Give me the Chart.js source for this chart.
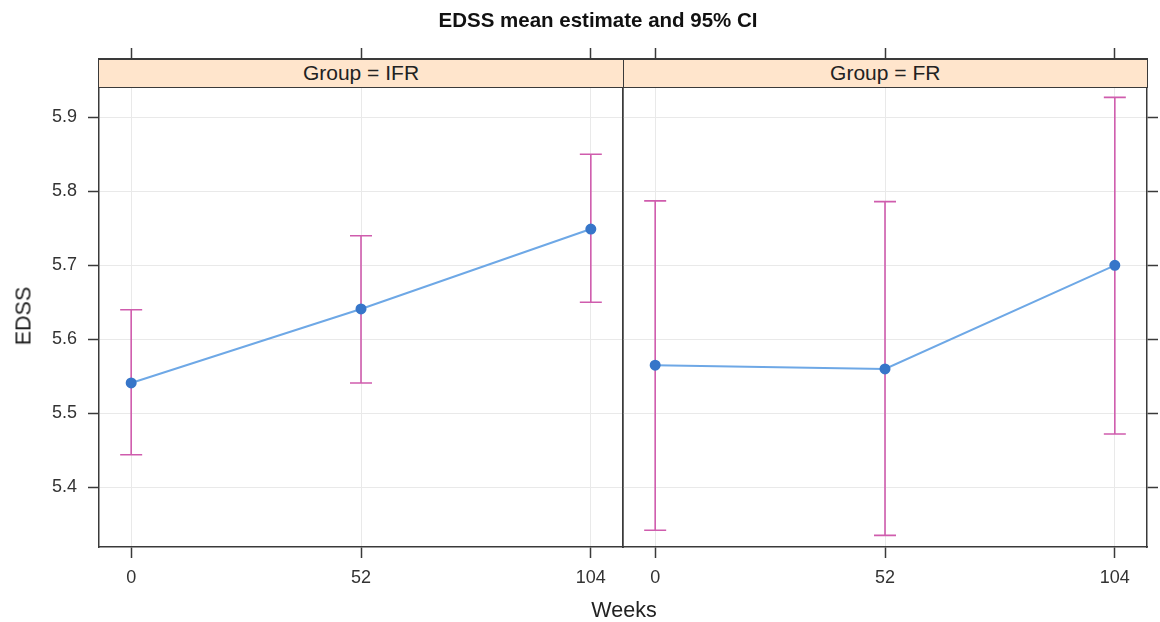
<!DOCTYPE html>
<html>
<head>
<meta charset="utf-8">
<script src="https://cdn.jsdelivr.net/npm/chart.js@4"></script>
<style>
  body { margin: 0; background: #fff; font-family: "Liberation Sans", Arial, sans-serif; }
  #wrap { position: relative; width: 1160px; height: 622px; overflow: hidden; }
  canvas { position: absolute; top: 0; }
  .txt { position: absolute; white-space: nowrap; color: #222; }
  .strip { position: absolute; top: 58.5px; height: 29px; box-sizing: border-box;
           background: #ffe5cc; border: 1.5px solid #3a3a3a; text-align: center;
           font-size: 21px; line-height: 26px; color: #222; }
</style>
</head>
<body>
<div id="wrap">
  <canvas id="c1" width="640" height="622" style="left:0px"></canvas>
  <canvas id="c2" width="560" height="622" style="left:600px"></canvas>
  <div class="strip" style="left:98px;width:526px">Group = IFR</div>
  <div class="strip" style="left:622.5px;width:525.5px">Group = FR</div>
  <div class="txt" style="left:598px;top:20px;transform:translate(-50%,-50%);font-weight:bold;font-size:20.5px;color:#111">EDSS mean estimate and 95% CI</div>
  <div class="txt" style="left:624px;top:610px;transform:translate(-50%,-50%);font-size:21.5px">Weeks</div>
  <div class="txt" style="left:24px;top:316px;transform:translate(-50%,-50%) rotate(-90deg);font-size:21.5px">EDSS</div>
</div>
<script>
const weeks = [0, 52, 104];
const xTicks = [0, 52, 104];
const yTicks = [5.4, 5.5, 5.6, 5.7, 5.8, 5.9];

const ifrMean = [5.541, 5.641, 5.749];
const ifrLower = [5.444, 5.541, 5.650];
const ifrUpper = [5.640, 5.740, 5.850];

const frMean = [5.565, 5.560, 5.700];
const frLower = [5.342, 5.335, 5.472];
const frUpper = [5.787, 5.786, 5.927];

const tickFont = { family: '"Liberation Sans", Arial, sans-serif', size: 18 };
const dark = '#3a3a3a';
const gridCol = '#e9e9e9';

// vertical CI bars with caps, drawn under the line
const errorBars = {
  id: 'errorBars',
  beforeDatasetsDraw(chart) {
    const ctx = chart.ctx;
    const xs = chart.scales.x, ys = chart.scales.y;
    chart.data.datasets.forEach(ds => {
      ctx.save();
      ctx.strokeStyle = '#cf5cad';
      ctx.lineWidth = 1.6;
      ds.data.forEach((p, i) => {
        const x = xs.getPixelForValue(p.x);
        const y1 = ys.getPixelForValue(ds.lower[i]);
        const y2 = ys.getPixelForValue(ds.upper[i]);
        ctx.beginPath();
        ctx.moveTo(x, y1); ctx.lineTo(x, y2);
        ctx.moveTo(x - 11, y1); ctx.lineTo(x + 11, y1);
        ctx.moveTo(x - 11, y2); ctx.lineTo(x + 11, y2);
        ctx.stroke();
      });
      ctx.restore();
    });
  }
};

function setTicks(vals) {
  return s => { s.ticks = vals.map(v => ({ value: v })); };
}

function makePanel(id, mean, lower, upper, isLeft) {
  const scales = {
    x: {
      type: 'linear', position: 'bottom', min: -7.28, max: 111.28,
      afterBuildTicks: setTicks(xTicks),
      afterFit: s => { s.height = 75; },
      ticks: { font: tickFont, color: '#333', padding: 9, maxRotation: 0 },
      grid: { color: gridCol, tickColor: dark, tickLength: 11, tickWidth: 1.5 },
      border: { color: dark, width: 1.5 }
    },
    xTop: {
      type: 'linear', position: 'top', min: -7.28, max: 111.28,
      afterBuildTicks: setTicks(xTicks),
      afterFit: s => { s.height = 59; },
      ticks: { font: tickFont, color: 'rgba(0,0,0,0)' },
      grid: { drawOnChartArea: false, tickColor: dark, tickLength: 11, tickWidth: 1.5 },
      border: { color: dark, width: 1.5 }
    },
    y: {
      position: 'left', min: 5.3193, max: 5.9788,
      afterBuildTicks: setTicks(yTicks),
      afterFit: s => { s.width = isLeft ? 99 : 23; },
      ticks: { font: tickFont, color: isLeft ? '#333' : 'rgba(0,0,0,0)', padding: 11,
               callback: v => v.toFixed(1) },
      grid: { color: gridCol, drawTicks: isLeft, tickColor: dark, tickLength: 11, tickWidth: 1.5 },
      border: { color: dark, width: 1.5 }
    },
    yRight: {
      position: 'right', min: 5.3193, max: 5.9788,
      afterBuildTicks: setTicks(yTicks),
      afterFit: s => { s.width = isLeft ? 17 : 13; },
      ticks: { font: tickFont, color: 'rgba(0,0,0,0)' },
      grid: { drawOnChartArea: false, drawTicks: !isLeft, tickColor: dark, tickLength: 11, tickWidth: 1.5 },
      border: { color: dark, width: 1.5 }
    }
  };
  return new Chart(document.getElementById(id), {
    type: 'line',
    data: {
      datasets: [{
        data: weeks.map((w, i) => ({ x: w, y: mean[i] })),
        lower: lower,
        upper: upper,
        xAxisID: 'x', yAxisID: 'y',
        borderColor: '#6ea8e6',
        borderWidth: 2,
        pointBackgroundColor: '#3776c9',
        pointBorderColor: '#3776c9',
        pointRadius: 4.5,
        tension: 0
      }]
    },
    options: {
      responsive: false,
      animation: false,
      layout: { padding: 0 },
      plugins: { legend: { display: false }, tooltip: { enabled: false } },
      scales: scales
    },
    plugins: [errorBars]
  });
}

makePanel('c1', ifrMean, ifrLower, ifrUpper, true);
makePanel('c2', frMean, frLower, frUpper, false);
</script>
</body>
</html>
